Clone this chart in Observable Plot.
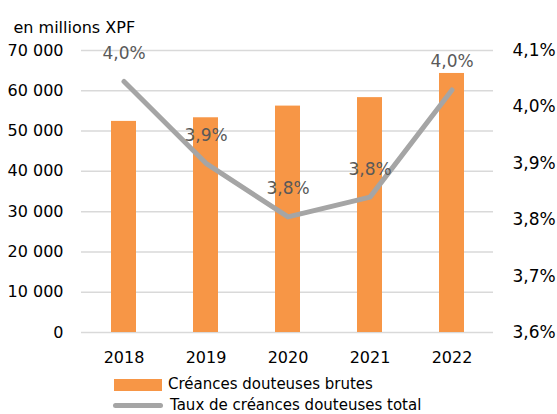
<!DOCTYPE html>
<html>
<head>
<meta charset="utf-8">
<script src="https://cdn.jsdelivr.net/npm/d3@7"></script>
<script src="https://cdn.jsdelivr.net/npm/@observablehq/plot@0.6"></script>
<style>
  html, body { margin: 0; padding: 0; background: #fff; overflow: hidden; }
  #wrap { position: relative; width: 557px; height: 414px; font-family: "DejaVu Sans", Verdana, sans-serif; }
  .leg { position: absolute; left: 0; font-size: 15px; color: #000; line-height: 18px; white-space: nowrap; }
  .sw { position: absolute; }
</style>
</head>
<body>
<div id="wrap"></div>
<script>
const years = ["2018", "2019", "2020", "2021", "2022"];
const creances = [52400, 53300, 56200, 58300, 64300];
const taux = [4.045, 3.90, 3.805, 3.84, 4.03];
const leftTicks = [0, 10000, 20000, 30000, 40000, 50000, 60000, 70000];
const rightTicks = [3.6, 3.7, 3.8, 3.9, 4.0, 4.1];
const unitLabel = "en millions XPF";
const seriesNames = ["Créances douteuses brutes", "Taux de créances douteuses total"];

const pctMin = 3.6, pctMax = 4.1, yMax = 70000;
const toY = p => (p - pctMin) / (pctMax - pctMin) * yMax;
const fmtPct = p => p.toFixed(1).replace(".", ",") + "%";
const fmtNum = d => d3.format(",")(d).replace(/,/g, " ");

const data = years.map((year, i) => ({year, value: creances[i], taux: taux[i]}));

const chart = Plot.plot({
  width: 557,
  height: 370,
  marginTop: 50,
  marginBottom: 38,
  marginLeft: 81,
  marginRight: 64,
  style: {fontFamily: "DejaVu Sans, Verdana, sans-serif", fontSize: "16px", background: "#fff", color: "#000"},
  x: {domain: years, paddingInner: 0.7, paddingOuter: 0.35, label: null},
  y: {domain: [0, yMax], label: null},
  marks: [
    Plot.gridY(leftTicks, {stroke: "#d9d9d9", strokeOpacity: 1, strokeWidth: 1.5}),
    Plot.barY(data, {x: "year", y: "value", fill: "#f79646"}),
    Plot.line(data, {x: "year", y: d => toY(d.taux), stroke: "#a5a5a5", strokeWidth: 5, strokeLinecap: "round", strokeLinejoin: "round"}),
    Plot.text(data, {x: "year", y: d => toY(d.taux), text: d => fmtPct(d.taux), dy: -28, fill: "#595959", fontSize: 17}),
    Plot.axisY(leftTicks, {tickSize: 0, tickPadding: 18, tickFormat: fmtNum, fontSize: 16, label: null, fill: "#000"}),
    Plot.text(rightTicks, {y: d => toY(d), text: d => fmtPct(d), frameAnchor: "right", textAnchor: "start", dx: 19, fontSize: 17, fill: "#000"}),
    Plot.axisX({tickSize: 0, tickPadding: 19, fontSize: 16, label: null, fill: "#000"}),
    Plot.text([unitLabel], {text: d => d, frameAnchor: "top-left", textAnchor: "start", lineAnchor: "middle", dx: -68, dy: -23, fontSize: 16, fill: "#000"})
  ]
});

const wrap = document.getElementById("wrap");
wrap.appendChild(chart);

// Legend (HTML, below the SVG)
const sw1 = document.createElement("div");
sw1.className = "sw";
Object.assign(sw1.style, {left: "114px", top: "379px", width: "48px", height: "12px", background: "#f79646"});
wrap.appendChild(sw1);
const t1 = document.createElement("div");
t1.className = "leg";
Object.assign(t1.style, {left: "168px", top: "375px"});
t1.textContent = seriesNames[0];
wrap.appendChild(t1);

const sw2 = document.createElement("div");
sw2.className = "sw";
Object.assign(sw2.style, {left: "113px", top: "403px", width: "50px", height: "5px", background: "#a5a5a5", borderRadius: "3px"});
wrap.appendChild(sw2);
const t2 = document.createElement("div");
t2.className = "leg";
Object.assign(t2.style, {left: "170px", top: "396px"});
t2.textContent = seriesNames[1];
wrap.appendChild(t2);
</script>
</body>
</html>
